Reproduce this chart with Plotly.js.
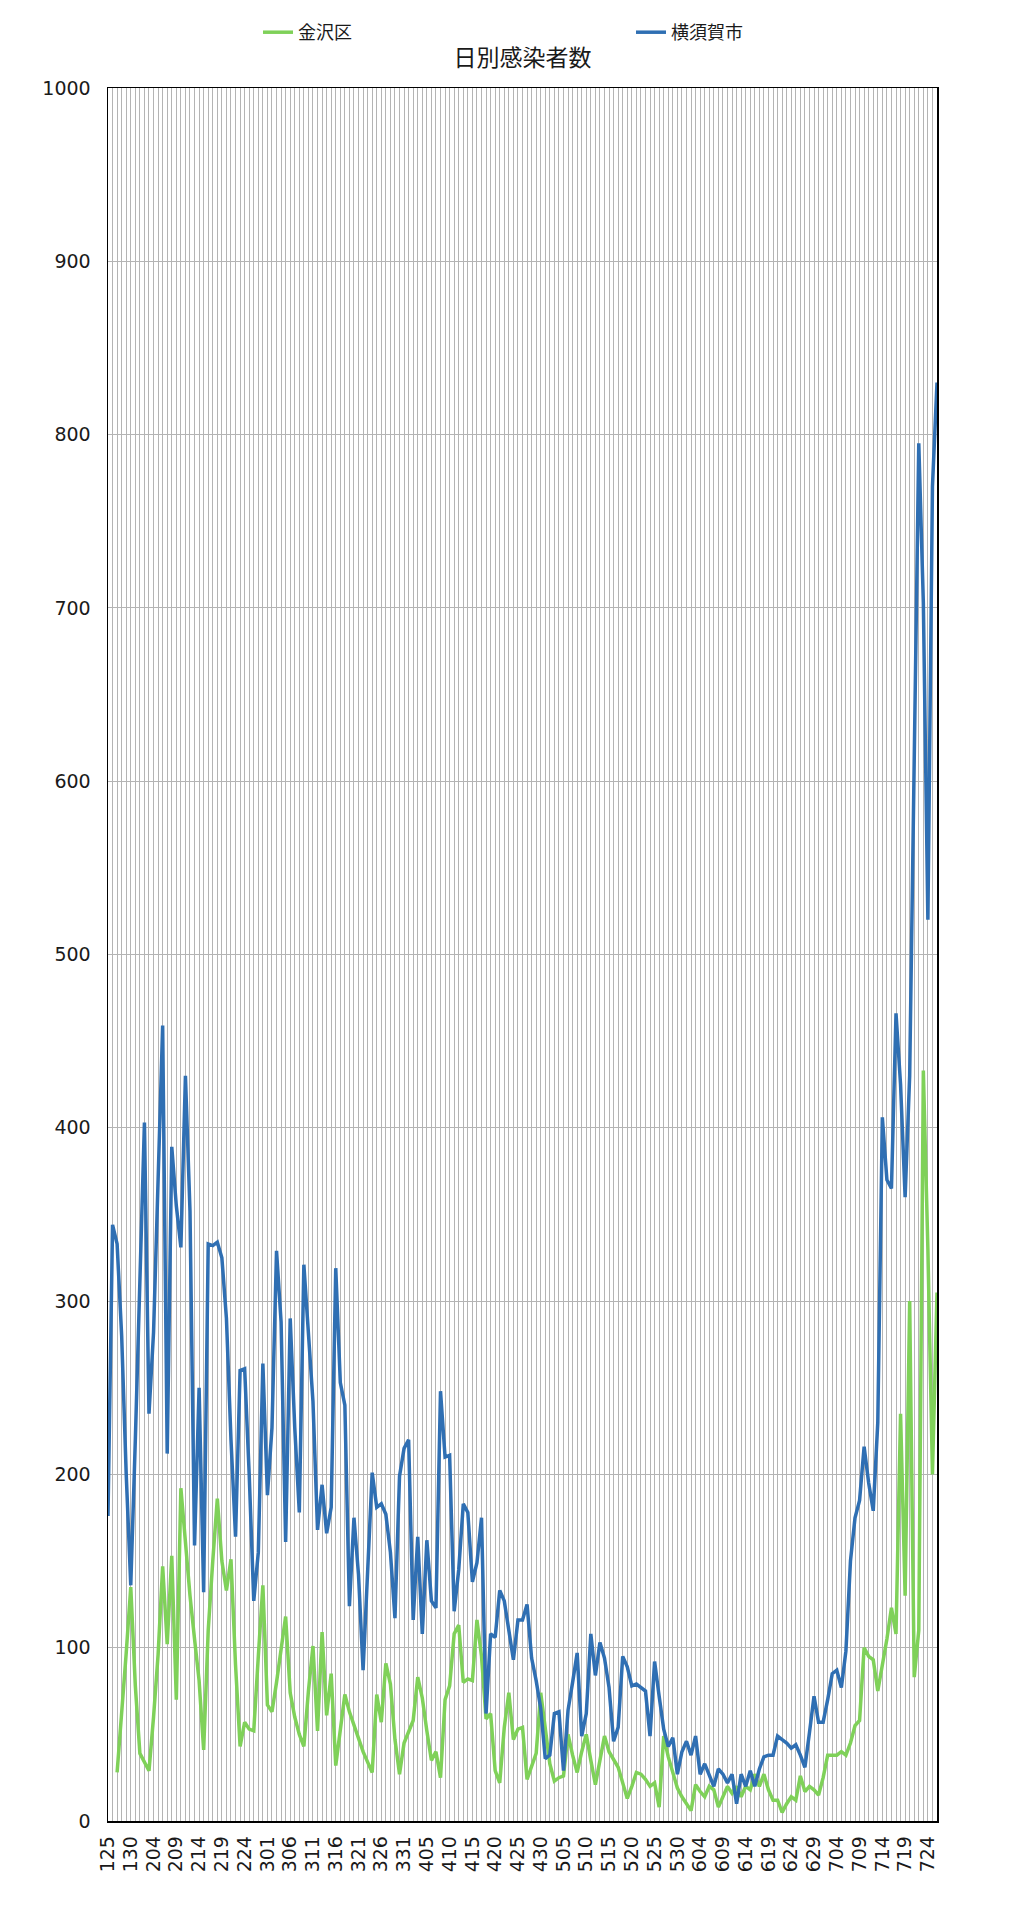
<!DOCTYPE html>
<html>
<head>
<meta charset="utf-8">
<script src="https://cdn.plot.ly/plotly-3.0.1.min.js"></script>
<style>
html,body{margin:0;padding:0;background:#fff;}
#chart{width:1014px;height:1920px;}
</style>
</head>
<body>
<div id="chart"></div>
<script>
// Category axis: one point per day from 2022-01-25 to 2022-07-26
const startDate = "2022-01-25";
const dayCount = 183;

// Tick labels shown every 5 days (MDD)
const tickLabels = ["125","130","204","209","214","219","224","301","306","311","316","321","326","331",
  "405","410","415","420","425","430","505","510","515","520","525","530","604","609","614","619",
  "624","629","704","709","714","719","724"];

// 金沢区 daily cases
const kanazawa = [null,null,28,60,97,135,78,39,34,29,
  60,96,147,102,153,70,192,158,130,105,
  81,41,110,150,186,150,133,151,90,43,
  57,53,52,95,136,67,63,80,100,118,
  74,60,50,43,75,101,52,109,61,85,
  32,54,73,63,55,47,40,34,28,73,
  57,91,79,47,27,45,52,58,83,71,
  52,35,40,25,70,78,108,113,80,82,
  81,116,95,59,62,29,22,54,74,47,
  53,54,24,32,39,74,52,33,23,25,
  26,50,38,28,40,50,35,21,35,49,
  40,35,31,22,13,20,28,27,24,20,
  22,8,49,37,28,19,14,10,6,21,
  17,14,20,18,8,14,20,16,20,14,
  20,18,27,20,27,18,12,12,5,10,
  14,12,26,17,20,18,15,25,38,38,
  38,40,38,45,55,58,100,95,93,75,
  90,105,123,108,235,130,300,83,110,433,
  330,200,305];

// 横須賀市 daily cases
const yokosuka = [176,344,333,280,200,136,220,310,403,235,
  282,370,459,212,389,355,331,430,352,159,
  250,132,333,332,334,325,290,220,164,260,
  261,200,127,155,264,188,227,329,288,161,
  290,227,178,321,283,242,168,194,166,181,
  319,253,240,124,175,142,87,140,201,181,
  183,177,155,117,199,215,220,116,164,108,
  162,127,123,248,210,211,121,145,183,178,
  138,149,175,62,108,106,133,127,110,93,
  116,116,125,94,81,65,36,38,62,63,
  29,64,80,97,49,62,108,84,103,94,
  77,46,54,95,89,78,79,77,75,49,
  92,72,53,43,48,27,40,46,38,49,
  27,33,27,20,30,27,22,27,10,27,
  20,29,20,30,37,38,38,49,47,45,
  42,44,38,31,51,72,57,57,70,85,
  87,77,98,150,175,185,216,195,179,230,
  406,370,365,466,425,360,430,600,795,703,
  520,770,830];

const seriesNames = ["金沢区","横須賀市"];

// Build date categories
function addDays(iso, n){
  const d = new Date(iso + "T00:00:00Z");
  d.setUTCDate(d.getUTCDate() + n);
  return d.toISOString().slice(0,10);
}
const dates = [];
for (let i = 0; i < dayCount; i++) dates.push(addDays(startDate, i));
const tickVals = [];
for (let i = 0; i < tickLabels.length; i++) tickVals.push(dates[i*5]);

const font = "Noto Sans CJK JP, Noto Sans, sans-serif";
const numFont = "DejaVu Sans, Noto Sans, sans-serif";

const traces = [
  {x: dates, y: kanazawa, name: seriesNames[0], type: "scatter", mode: "lines",
   connectgaps: true, line: {color: "#7fd159", width: 3.5}},
  {x: dates, y: yokosuka, name: seriesNames[1], type: "scatter", mode: "lines",
   connectgaps: true, line: {color: "#2f6fb3", width: 3.5}}
];

const layout = {
  width: 1014, height: 1920,
  paper_bgcolor: "#ffffff", plot_bgcolor: "#ffffff",
  margin: {l: 108, r: 77, t: 88, b: 99},
  font: {family: font, color: "#1a1a1a", size: 17},
  title: {text: "日別感染者数", font: {family: font, size: 23, color: "#1a1a1a"},
          x: 0.5, xref: "paper", xanchor: "center", y: 1 - 58/1920, yanchor: "middle"},
  showlegend: true,
  legend: {orientation: "h", xref: "container", x: 258/1014, xanchor: "left",
           yref: "container", y: 1 - 14/1920, yanchor: "top",
           entrywidth: 328, entrywidthmode: "pixels",
           font: {family: font, size: 18, color: "#1a1a1a"},
           bgcolor: "rgba(0,0,0,0)"},
  xaxis: {
    type: "date",
    range: [dates[0], dates[dates.length-1]],
    tickmode: "array", tickvals: tickVals, ticktext: tickLabels,
    tickangle: -90, ticks: "",
    tickfont: {family: numFont, size: 19, color: "#1a1a1a"},
    ticklabelstandoff: 6,
    showgrid: true, gridcolor: "#b4b4b4", gridwidth: 1,
    minor: {dtick: 86400000, tick0: dates[0], showgrid: true, gridcolor: "#b4b4b4", gridwidth: 1, ticks: ""},
    showline: true, linecolor: "#000000", linewidth: 1.5, mirror: true,
    zeroline: false, fixedrange: true
  },
  yaxis: {
    range: [0, 1000], dtick: 100, tick0: 0,
    ticks: "", tickfont: {family: numFont, size: 19, color: "#1a1a1a"},
    ticklabelstandoff: 12,
    showgrid: true, gridcolor: "#b4b4b4", gridwidth: 1,
    showline: true, linecolor: "#000000", linewidth: 1.5, mirror: true,
    zeroline: false, fixedrange: true
  }
};

Plotly.newPlot("chart", traces, layout, {displayModeBar: false, staticPlot: true});
</script>
</body>
</html>
